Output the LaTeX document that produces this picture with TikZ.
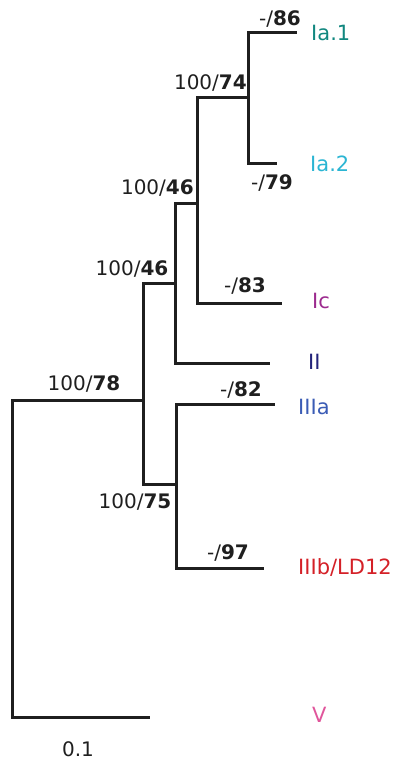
\documentclass[tikz,border=0pt]{standalone}
\usepackage{fontspec}
\setmainfont{DejaVu Sans}
\definecolor{cIaone}{HTML}{11877F}
\definecolor{cIatwo}{HTML}{2BB5D3}
\definecolor{cIc}{HTML}{9C2A8E}
\definecolor{cII}{HTML}{23237A}
\definecolor{cIIIa}{HTML}{3B5CB5}
\definecolor{cIIIb}{HTML}{D42027}
\definecolor{cV}{HTML}{E0559B}
\begin{document}
\begin{tikzpicture}[x=1pt,y=-1pt,
  branch/.style={line width=3pt,line cap=rect,draw=black!88},
  supp/.style={inner sep=0pt,text depth=0pt,font=\fontsize{20}{22}\selectfont,text=black!88},
  clade/.style={inner sep=0pt,text depth=0pt,anchor=west,font=\fontsize{21}{23}\selectfont}]
  \useasboundingbox (0,0) rectangle (396,762);
  % tips
  \coordinate (tIaone) at (295,33);
  \coordinate (tIatwo) at (275,164);
  \coordinate (tIc) at (280,303);
  \coordinate (tII) at (268,363);
  \coordinate (tIIIa) at (273,404);
  \coordinate (tIIIb) at (262,568);
  \coordinate (tV) at (148,717);
  % inner nodes
  \coordinate (nIa) at (248,98);
  \coordinate (nIac) at (197,203);
  \coordinate (nI) at (175,283);
  \coordinate (nIII) at (176,484);
  \coordinate (nin) at (143,400);
  \coordinate (root) at (12,560);
  % branches
  \draw[branch] (tIaone) -| (nIa) |- (tIatwo);
  \draw[branch] (nIa) -| (nIac) |- (tIc);
  \draw[branch] (nIac) -| (nI) |- (tII);
  \draw[branch] (tIIIa) -| (nIII) |- (tIIIb);
  \draw[branch] (nI) -| (nin) |- (nIII);
  \draw[branch] (nin) -| (root) |- (tV);
  % support values
  \node[supp] (sIaone) at (280,18) {-/\textbf{86}};
  \node[supp,anchor=east] (sIa) at (247,82) {100/\textbf{74}};
  \node[supp] (sIatwo) at (272,182) {-/\textbf{79}};
  \node[supp,anchor=east] (sIac) at (194,187) {100/\textbf{46}};
  \node[supp] (sIc) at (245,285) {-/\textbf{83}};
  \node[supp] (sI) at (132,268) {100/\textbf{46}};
  \node[supp] (sin) at (84,383) {100/\textbf{78}};
  \node[supp] (sIIIa) at (241,389) {-/\textbf{82}};
  \node[supp] (sIII) at (135,501) {100/\textbf{75}};
  \node[supp] (sIIIb) at (228,552) {-/\textbf{97}};
  % clades
  \node[clade,text=cIaone] (lIaone) at (311,33) {Ia.1};
  \node[clade,text=cIatwo] (lIatwo) at (310,164) {Ia.2};
  \node[clade,text=cIc] (lIc) at (312,301) {Ic};
  \node[clade,text=cII] (lII) at (308,362) {II};
  \node[clade,text=cIIIa] (lIIIa) at (298,407) {IIIa};
  \node[clade,text=cIIIb] (lIIIb) at (298,567) {IIIb/LD12};
  \node[clade,text=cV] (lV) at (312,715) {V};
  % scale
  \node[supp] (scale) at (78,749) {0.1};
\end{tikzpicture}
\end{document}
